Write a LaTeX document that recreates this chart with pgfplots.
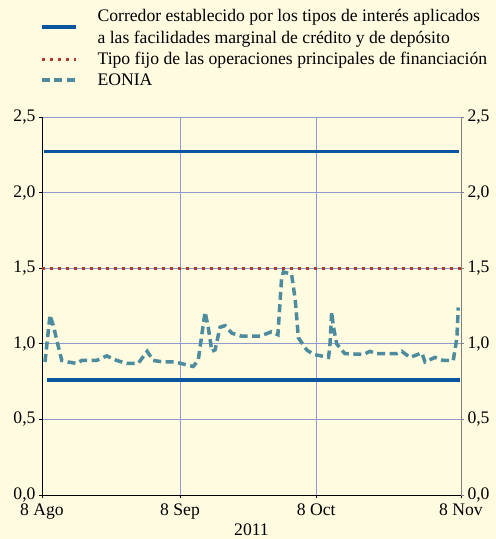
\documentclass[border=0pt]{standalone}
\usepackage{fontspec}
\setmainfont{Liberation Serif}
\usepackage{pgfplots}
\pgfplotsset{compat=1.18}

\definecolor{bgc}{HTML}{FEFBE0}
\definecolor{corr}{HTML}{0A55A0}
\definecolor{mro}{HTML}{B03A2E}
\definecolor{eonia}{HTML}{4C8C9E}
\definecolor{gridc}{HTML}{8C9BD0}

\newcommand{\chartfont}{\fontsize{17.7}{21}\selectfont}
\newcommand{\legfont}{\fontsize{17.7}{21.5}\selectfont}

\pgfplotsset{
  base/.style={
    scale only axis, width=419bp, height=378bp,
    at={(0,0)}, anchor=south west,
    xmin=0, xmax=92, ymin=0, ymax=2.5,
    ytick={0,0.5,1,1.5,2,2.5},
    tick label style={font=\chartfont},
    /pgf/number format/.cd, use comma, fixed, fixed zerofill, precision=1, assume math mode=true,
  },
}

\begin{document}
\begin{tikzpicture}
\fill[bgc] (-42bp,-44bp) rectangle (454bp,495bp);
\path[use as bounding box] (-42bp,-44bp) rectangle (454bp,495bp);

\begin{axis}[
  base,
  axis x line*=bottom, axis y line*=left,
  axis line style={black, line width=0.8bp},
  xtick={0,30.3,60.2,92},
  xticklabels={8 Ago,8 Sep,8 Oct,8 Nov},
  xticklabel style={yshift=-2bp},
  xlabel={2011}, label style={font=\chartfont},
  xlabel style={yshift=2bp},
  grid=major, grid style={gridc, line width=0.7bp},
  tick align=outside, major tick length=3bp,
  tick style={black, line width=0.7bp},
  legend cell align=left,
  legend style={at={(-0.005,1.290)}, anchor=north west, draw=none, fill=none,
    font=\legfont, nodes={align=left}, column sep=18bp, row sep=3.5bp,
    inner sep=0pt},
  legend image code/.code={\draw[#1] (0bp,0bp) -- (34bp,0bp);},
]
\addplot[corr, line width=3.4bp] coordinates {(0.4,2.27) (91.6,2.27)};
\addlegendentry{Corredor establecido por los tipos de interés aplicados\\a las facilidades marginal de crédito y de depósito}
\addplot[corr, line width=3.4bp, forget plot] coordinates {(1.0,0.76) (91.8,0.76)};
\addplot[mro, line width=3.2bp, dash pattern=on 3bp off 5bp] coordinates {(0,1.5) (92,1.5)};
\addlegendentry{Tipo fijo de las operaciones principales de financiación}
\addplot[eonia, line width=3.5bp, dash pattern=on 8bp off 4.5bp] coordinates {
(0.66,0.88) (1.76,1.19) (2.48,1.12) (4.33,0.89) (5.71,0.88) (7.62,0.87)
(8.72,0.89) (12.0,0.89) (14.2,0.92) (16.4,0.89) (18.6,0.87) (21.1,0.87)
(23.1,0.95) (24.4,0.89) (26.6,0.88) (29.2,0.88) (33.2,0.85) (34.3,0.89)
(35.8,1.21) (36.5,1.11) (37.3,0.95) (38.0,0.96) (39.1,1.11) (40.2,1.12)
(41.7,1.07) (43.9,1.05) (47.9,1.05) (50.4,1.08) (51.8,1.06) (52.6,1.43)
(53.0,1.475) (54.8,1.46) (55.6,1.29) (56.3,1.04) (58.1,0.96) (59.6,0.93)
(62.9,0.91) (63.2,0.975) (63.6,1.21) (64.0,1.11) (64.7,1.00) (66.5,0.935)
(70.6,0.93) (72.0,0.95) (73.5,0.935) (77.9,0.935) (79.0,0.95) (80.8,0.91)
(83.4,0.94) (84.1,0.88) (86.3,0.91) (88.1,0.89) (90.3,0.89) (91.1,1.04)
(91.4,1.24)
};
\addlegendentry{EONIA}
\end{axis}

\begin{axis}[
  base,
  axis x line=none, axis y line*=right,
  axis line style={gray, line width=0.8bp},
  tick align=outside, major tick length=3bp,
  tick style={gray, line width=0.7bp},
]
\addplot[draw=none, forget plot] coordinates {(0,0) (92,2.5)};
\end{axis}
\end{tikzpicture}
\end{document}
